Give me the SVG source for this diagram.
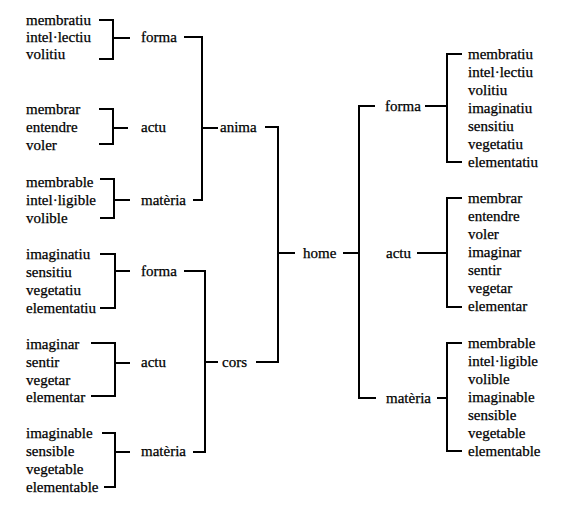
<svg xmlns="http://www.w3.org/2000/svg" width="576" height="506" viewBox="0 0 576 506" font-family="'Liberation Serif','DejaVu Serif','Times New Roman',serif">
<style>
text{font-family:"Liberation Serif","DejaVu Serif","Times New Roman",serif;font-size:15px;fill:#000;stroke:#000;stroke-width:0.25}
.c path{fill:none;stroke:#000;stroke-width:2}
</style>
<rect width="576" height="506" fill="#fff"/>
<g class="c" id="connectors">
<path d="M99,20H113V59H99M113,38H130"/>
<path d="M99,109H113V144H99M113,128H128"/>
<path d="M100,179H114V218H100M114,200H130"/>
<path d="M184,37H202V200H193M202,128H218"/>
<path d="M100,254H115V308H100M115,271H130"/>
<path d="M91,343H115V396H91M115,363H130"/>
<path d="M102,433H115V487H104M115,452H130"/>
<path d="M184,271H205V452H193M205,362H218"/>
<path d="M265,127H278V362H256M278,253H295"/>
<path d="M343,253H359M375,106H359V398H376"/>
<path d="M425,106H447M462,54H447V162H462"/>
<path d="M417,253H447M462,198H447V307H462"/>
<path d="M437,398H447M462,343H447V451H462"/>
</g>
<g id="leaves-anima-forma"><text x="26" y="25">membratiu</text><text x="26" y="42">intel·lectiu</text><text x="26" y="59">volitiu</text></g>
<g id="leaves-anima-actu"><text x="26" y="114">membrar</text><text x="26" y="132">entendre</text><text x="26" y="150">voler</text></g>
<g id="leaves-anima-materia"><text x="26" y="187">membrable</text><text x="26" y="205">intel·ligible</text><text x="26" y="223">volible</text></g>
<g id="leaves-cors-forma"><text x="26" y="259">imaginatiu</text><text x="26" y="277">sensitiu</text><text x="26" y="295">vegetatiu</text><text x="26" y="313">elementatiu</text></g>
<g id="leaves-cors-actu"><text x="26" y="349">imaginar</text><text x="26" y="367">sentir</text><text x="26" y="385">vegetar</text><text x="26" y="402">elementar</text></g>
<g id="leaves-cors-materia"><text x="26" y="438">imaginable</text><text x="26" y="456">sensible</text><text x="26" y="474">vegetable</text><text x="26" y="492">elementable</text></g>
<g id="anima-forma"><text x="141" y="42">forma</text></g>
<g id="anima-actu"><text x="141" y="132">actu</text></g>
<g id="anima-materia"><text x="141" y="205">matèria</text></g>
<g id="cors-forma"><text x="141" y="276">forma</text></g>
<g id="cors-actu"><text x="141" y="367">actu</text></g>
<g id="cors-materia"><text x="141" y="456">matèria</text></g>
<g id="anima"><text x="220" y="132">anima</text></g>
<g id="cors"><text x="222" y="367">cors</text></g>
<g id="home"><text x="303" y="258">home</text></g>
<g id="home-forma"><text x="385" y="111">forma</text></g>
<g id="home-actu"><text x="386" y="258">actu</text></g>
<g id="home-materia"><text x="386" y="403">matèria</text></g>
<g id="leaves-home-forma"><text x="468" y="59">membratiu</text><text x="468" y="77">intel·lectiu</text><text x="468" y="95">volitiu</text><text x="468" y="113">imaginatiu</text><text x="468" y="131">sensitiu</text><text x="468" y="149">vegetatiu</text><text x="468" y="167">elementatiu</text></g>
<g id="leaves-home-actu"><text x="468" y="203">membrar</text><text x="468" y="221">entendre</text><text x="468" y="239">voler</text><text x="468" y="257">imaginar</text><text x="468" y="275">sentir</text><text x="468" y="293">vegetar</text><text x="468" y="311">elementar</text></g>
<g id="leaves-home-materia"><text x="468" y="348">membrable</text><text x="468" y="366">intel·ligible</text><text x="468" y="384">volible</text><text x="468" y="402">imaginable</text><text x="468" y="420">sensible</text><text x="468" y="438">vegetable</text><text x="468" y="456">elementable</text></g>
</svg>
